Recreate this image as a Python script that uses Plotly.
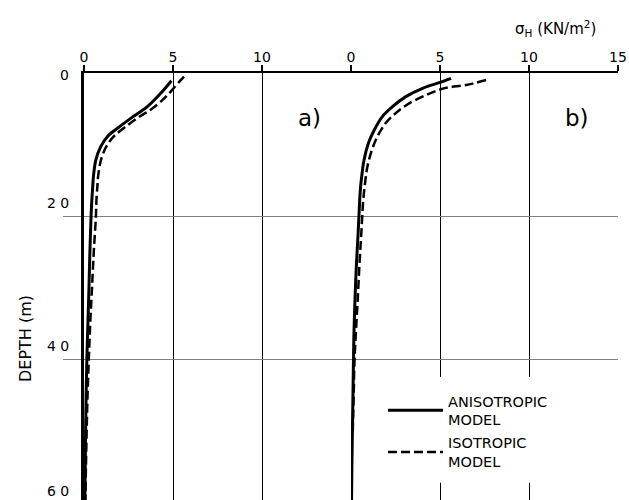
import plotly.graph_objects as go

# ---------------- data ----------------
# panel a)
a_aniso_depth = [1.08, 2.84, 4.71, 6.34, 7.73, 8.9, 10.3, 12.2, 14.5, 15.9, 18.7, 22, 26, 30, 35, 40, 45, 50, 55, 60]
a_aniso_sigma = [4.91, 4.31, 3.56, 2.62, 1.88, 1.31, 0.94, 0.66, 0.53, 0.49, 0.42, 0.37, 0.32, 0.28, 0.22, 0.16, 0.12, 0.09, 0.07, 0.05]
a_iso_depth = [0.5, 1.0, 2.6, 3.8, 5.2, 6.3, 7.7, 8.9, 10.3, 12.2, 14.5, 15.9, 17.7, 20, 25, 30, 35, 40, 45, 50, 55, 60]
a_iso_sigma = [5.62, 5.43, 4.87, 4.40, 3.70, 3.00, 2.24, 1.66, 1.25, 0.95, 0.79, 0.75, 0.70, 0.67, 0.55, 0.45, 0.35, 0.27, 0.20, 0.15, 0.11, 0.08]

# panel b)
b_aniso_depth = [0.74, 1.35, 2.14, 3.3, 4.7, 6.1, 8.0, 9.8, 12.2, 14.5, 15.9, 17.7, 22.4, 27, 32, 36, 40, 45, 50, 55, 60]
b_aniso_sigma = [5.62, 4.96, 4.02, 3.08, 2.33, 1.76, 1.30, 0.98, 0.73, 0.60, 0.54, 0.49, 0.40, 0.30, 0.22, 0.17, 0.14, 0.11, 0.08, 0.05, 0.03]
b_iso_depth = [0.98, 1.68, 2.0, 2.3, 3.1, 4.24, 5.6, 7.0, 8.9, 10.8, 13.1, 15.4, 17.7, 22.4, 27, 32, 36, 40, 45, 50]
b_iso_sigma = [7.59, 6.46, 5.52, 5.00, 4.21, 3.27, 2.52, 1.95, 1.48, 1.17, 0.92, 0.79, 0.69, 0.58, 0.47, 0.37, 0.28, 0.20, 0.15, 0.10]

a_tick_vals = [0, 5, 10]
b_tick_vals = [0, 5, 10, 15]
depth_grid_vals = [20, 40]
depth_label_vals = [0, 20, 40, 60]
depth_label_text = ["0", "2 0", "4 0", "6 0"]
depth_label_shift = [-2, 13, 13, 11]

series_names = ["ANISOTROPIC<br>MODEL", "ISOTROPIC<br>MODEL"]

FONT = "DejaVu Sans"
DASH = "9px,4px"
Y_MAX = 59.7
PLOT_TOP, PLOT_LEFT, PLOT_W, PLOT_H = 73, 84, 534, 427


def px_x(px):
    return (px - PLOT_LEFT) / PLOT_W


def px_y(py):
    return 1 - (py - PLOT_TOP) / PLOT_H


fig = go.Figure()

fig.add_trace(go.Scatter(x=a_aniso_sigma, y=a_aniso_depth, mode="lines", name=series_names[0],
                         legendgroup="an", line=dict(color="black", width=3, shape="spline"),
                         xaxis="x", yaxis="y"))
fig.add_trace(go.Scatter(x=a_iso_sigma, y=a_iso_depth, mode="lines", name=series_names[1],
                         legendgroup="is", line=dict(color="black", width=2.5, dash=DASH, shape="spline"),
                         xaxis="x", yaxis="y"))
fig.add_trace(go.Scatter(x=b_aniso_sigma, y=b_aniso_depth, mode="lines", name=series_names[0],
                         legendgroup="an", showlegend=False,
                         line=dict(color="black", width=3, shape="spline"),
                         xaxis="x2", yaxis="y"))
fig.add_trace(go.Scatter(x=b_iso_sigma, y=b_iso_depth, mode="lines", name=series_names[1],
                         legendgroup="is", showlegend=False,
                         line=dict(color="black", width=2.5, dash=DASH, shape="spline"),
                         xaxis="x2", yaxis="y"))

xcommon = dict(range=[0, 15], side="top", ticks="outside", ticklen=6, tickwidth=1.5,
               tickcolor="black", showline=True, linecolor="black", linewidth=2,
               showgrid=True, gridcolor="black", gridwidth=1.3, zeroline=False,
               tickfont=dict(family=FONT, size=14, color="black"), ticklabelstandoff=-3,
               fixedrange=True)

fig.update_layout(
    width=629, height=500,
    margin=dict(l=PLOT_LEFT, r=629 - PLOT_LEFT - PLOT_W, t=PLOT_TOP, b=0, pad=0),
    paper_bgcolor="white", plot_bgcolor="white",
    font=dict(family=FONT, color="black"),
    xaxis=dict(domain=[0, 0.5], tickvals=a_tick_vals, anchor="y", **xcommon),
    xaxis2=dict(domain=[0.5, 1], tickvals=b_tick_vals, anchor="y", **xcommon),
    yaxis=dict(range=[Y_MAX, 0], tickvals=depth_grid_vals, showticklabels=False,
               ticks="outside", ticklen=18, tickwidth=1.3, tickcolor="#808080",
               showline=True, linecolor="black", linewidth=2.7,
               showgrid=True, gridcolor="#808080", gridwidth=1.3, zeroline=False,
               anchor="x", fixedrange=True),
    showlegend=True,
    legend=dict(x=px_x(383), y=px_y(385), xanchor="left", yanchor="top",
                bgcolor="rgba(0,0,0,0)", borderwidth=0, itemwidth=55,
                traceorder="grouped", tracegroupgap=1, valign="middle",
                font=dict(family=FONT, size=14.5, color="black")),
)

# white mask where the legend interrupts the grid lines of panel b
fig.add_shape(type="rect", xref="x2", yref="y", x0=2.5, x1=12.5, y0=42.5, y1=57.3,
              fillcolor="white", line=dict(width=0), layer="between")

# depth labels (paper coordinates so the bottom one is not hidden)
for v, t, s in zip(depth_label_vals, depth_label_text, depth_label_shift):
    fig.add_annotation(x=0, xref="paper", xanchor="right", xshift=-13,
                       y=1 - v / Y_MAX, yref="paper", yanchor="middle",
                       yshift=s, text=t, showarrow=False,
                       font=dict(family=FONT, size=14, color="black"))

fig.add_annotation(text="DEPTH (m)", textangle=-90, x=px_x(25), xref="paper", xanchor="center",
                   y=px_y(339), yref="paper", yanchor="middle", showarrow=False,
                   font=dict(family=FONT, size=16, color="black"))
fig.add_annotation(text="σ<sub>H</sub> (KN/m<sup>2</sup>)", x=px_x(555), xref="paper",
                   xanchor="center", y=px_y(29), yref="paper", yanchor="middle", showarrow=False,
                   font=dict(family=FONT, size=15, color="black"))
fig.add_annotation(text="a)", x=px_x(309), xref="paper", xanchor="center", y=px_y(118),
                   yref="paper", yanchor="middle", showarrow=False,
                   font=dict(family=FONT, size=23, color="black"))
fig.add_annotation(text="b)", x=px_x(577), xref="paper", xanchor="center", y=px_y(118),
                   yref="paper", yanchor="middle", showarrow=False,
                   font=dict(family=FONT, size=23, color="black"))

fig.write_html("out.html")
